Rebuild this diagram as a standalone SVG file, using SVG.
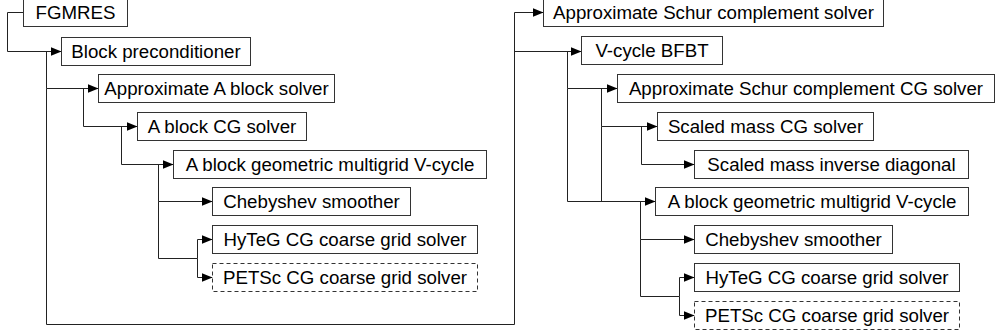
<svg xmlns="http://www.w3.org/2000/svg" width="996" height="336" viewBox="0 0 996 336">
<style>
.box{fill:#fff;stroke:#333;stroke-width:1}
.dash{stroke-dasharray:4 3}
.lbl{font-family:"Liberation Sans",Arial,sans-serif;font-size:18.7px;fill:#000;text-anchor:middle}
.con{fill:none;stroke:#222;stroke-width:1}
</style>
<defs>
<marker id="arr" markerUnits="userSpaceOnUse" markerWidth="11" markerHeight="9" refX="11" refY="4.5" orient="auto">
<path d="M0,0 L11,4.5 L0,9 z" fill="#000"/>
</marker>
</defs>
<rect width="996" height="336" fill="#fff"/>
<g id="connectors">
<path class="con" d="M23.5,12.5 H7.5 V51.5 H61.5" marker-end="url(#arr)"/>
<path class="con" d="M46.5,51.5 V88.5 H98.5" marker-end="url(#arr)"/>
<path class="con" d="M46.5,88.5 V324.5 H514.5 V12.5 H543.5" marker-end="url(#arr)"/>
<path class="con" d="M83.5,88.5 V126.5 H137.5" marker-end="url(#arr)"/>
<path class="con" d="M121.5,126.5 V164.5 H173.5" marker-end="url(#arr)"/>
<path class="con" d="M158.5,164.5 V201.5 H212.5" marker-end="url(#arr)"/>
<path class="con" d="M158.5,201.5 V258.5 H197.5 V239.5 H212.5" marker-end="url(#arr)"/>
<path class="con" d="M197.5,258.5 V277.5 H212.5" marker-end="url(#arr)"/>
<path class="con" d="M514.5,51.5 H581.5" marker-end="url(#arr)"/>
<path class="con" d="M567.5,51.5 V88.5 H617.5" marker-end="url(#arr)"/>
<path class="con" d="M567.5,88.5 V201.5 H655.5" marker-end="url(#arr)"/>
<path class="con" d="M601.5,88.5 V126.5 H657.5" marker-end="url(#arr)"/>
<path class="con" d="M601.5,126.5 V201.5"/>
<path class="con" d="M641.5,126.5 V164.5 H694.5" marker-end="url(#arr)"/>
<path class="con" d="M640.5,201.5 V239.5 H694.5" marker-end="url(#arr)"/>
<path class="con" d="M640.5,239.5 V296.5 H679.5 V277.5 H694.5" marker-end="url(#arr)"/>
<path class="con" d="M679.5,296.5 V315.5 H694.5" marker-end="url(#arr)"/>
</g>
<g id="fgmres"><rect class="box" x="23.5" y="-1.5" width="104" height="28"/><text class="lbl" x="75.5" y="19">FGMRES</text></g>
<g id="block-prec"><rect class="box" x="61.5" y="37.5" width="189" height="28"/><text class="lbl" x="156" y="58">Block preconditioner</text></g>
<g id="approx-a"><rect class="box" x="98.5" y="74.5" width="236" height="28"/><text class="lbl" x="216.5" y="95">Approximate A block solver</text></g>
<g id="a-cg"><rect class="box" x="137.5" y="112.5" width="169" height="28"/><text class="lbl" x="222" y="133">A block CG solver</text></g>
<g id="a-gmg-l"><rect class="box" x="173.5" y="150.5" width="313" height="28"/><text class="lbl" x="330" y="171">A block geometric multigrid V-cycle</text></g>
<g id="cheb-l"><rect class="box" x="212.5" y="187.5" width="198" height="28"/><text class="lbl" x="311.5" y="208">Chebyshev smoother</text></g>
<g id="hyteg-l"><rect class="box" x="212.5" y="225.5" width="265" height="28"/><text class="lbl" x="345" y="246">HyTeG CG coarse grid solver</text></g>
<g id="petsc-l"><rect class="box dash" x="212.5" y="263.5" width="265" height="28"/><text class="lbl" x="345" y="284">PETSc CG coarse grid solver</text></g>
<g id="approx-schur"><rect class="box" x="543.5" y="-1.5" width="340" height="28"/><text class="lbl" x="713.5" y="19">Approximate Schur complement solver</text></g>
<g id="vcycle-bfbt"><rect class="box" x="581.5" y="36.5" width="141" height="28"/><text class="lbl" x="652" y="57">V-cycle BFBT</text></g>
<g id="schur-cg"><rect class="box" x="617.5" y="74.5" width="377" height="28"/><text class="lbl" x="806" y="95">Approximate Schur complement CG solver</text></g>
<g id="mass-cg"><rect class="box" x="657.5" y="112.5" width="216" height="28"/><text class="lbl" x="765.5" y="133">Scaled mass CG solver</text></g>
<g id="mass-diag"><rect class="box" x="694.5" y="150.5" width="274" height="28"/><text class="lbl" x="831.5" y="171">Scaled mass inverse diagonal</text></g>
<g id="a-gmg-r"><rect class="box" x="655.5" y="187.5" width="313" height="28"/><text class="lbl" x="812" y="208">A block geometric multigrid V-cycle</text></g>
<g id="cheb-r"><rect class="box" x="694.5" y="225.5" width="198" height="28"/><text class="lbl" x="793.5" y="246">Chebyshev smoother</text></g>
<g id="hyteg-r"><rect class="box" x="694.5" y="263.5" width="265" height="28"/><text class="lbl" x="827" y="284">HyTeG CG coarse grid solver</text></g>
<g id="petsc-r"><rect class="box dash" x="694.5" y="301.5" width="265" height="28"/><text class="lbl" x="827" y="322">PETSc CG coarse grid solver</text></g>
</svg>
